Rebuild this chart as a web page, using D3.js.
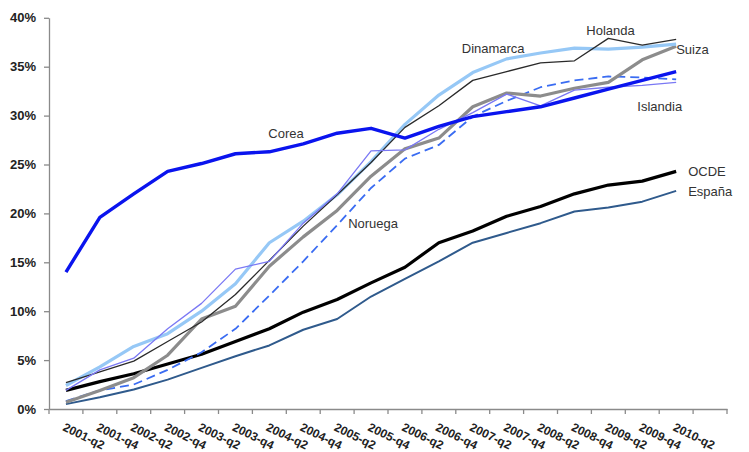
<!DOCTYPE html>
<html><head><meta charset="utf-8">
<script src="https://cdn.jsdelivr.net/npm/d3@7"></script>
<style>body{margin:0;background:#fff;} text{font-family:"Liberation Sans",Arial,sans-serif;}</style>
</head><body><svg id="c" width="749" height="452"></svg>
<script>
const quarters = ["2001-q2","2001-q4","2002-q2","2002-q4","2003-q2","2003-q4","2004-q2","2004-q4","2005-q2","2005-q4","2006-q2","2006-q4","2007-q2","2007-q4","2008-q2","2008-q4","2009-q2","2009-q4","2010-q2"];
const emptySlot = ["2010-q4"];
const yTicks = [0,5,10,15,20,25,30,35,40];

const espana    = [0.5,1.2,2.0,3.0,4.2,5.4,6.5,8.1,9.2,11.5,13.3,15.1,17.0,18.0,19.0,20.2,20.6,21.2,22.3];
const ocde      = [1.9,2.8,3.6,4.6,5.6,6.9,8.2,9.9,11.2,12.9,14.5,17.0,18.2,19.7,20.7,22.0,22.9,23.3,24.3];
const noruega   = [0.8,1.9,2.5,4.0,5.8,8.2,11.6,15.1,18.8,22.6,25.6,27.0,29.9,31.5,32.9,33.6,34.0,33.9,33.7];
const suiza     = [0.7,1.9,3.2,5.5,9.2,10.5,14.6,17.6,20.3,23.8,26.6,27.7,30.9,32.3,32.0,32.8,33.4,35.7,37.1];
const dinamarca = [2.4,4.3,6.4,7.7,10.0,12.8,17.0,19.2,21.9,25.3,29.1,32.1,34.4,35.8,36.4,36.9,36.8,37.0,37.3];
const holanda   = [2.7,3.8,4.9,6.9,8.9,11.7,15.2,18.7,21.9,25.2,28.8,31.0,33.6,34.5,35.4,35.6,37.9,37.2,37.8];
const islandia  = [1.9,4.0,5.2,8.2,10.8,14.3,15.1,19.0,22.0,26.4,26.5,28.6,30.3,32.2,31.0,32.6,32.9,33.1,33.4];
const corea     = [14.0,19.6,22.0,24.3,25.1,26.1,26.3,27.1,28.2,28.7,27.7,28.9,29.9,30.4,30.9,31.8,32.7,33.6,34.5];

const svg = d3.select("#c");
const x = d3.scaleBand().domain(quarters.concat(emptySlot)).range([49, 727]);
const cx = q => x(q) + x.bandwidth() / 2;
const y = d3.scaleLinear().domain([0, 40]).range([409, 17.8]);
const axisColor = "#8a8a8a";

// Y axis
const ya = svg.append("g").attr("transform", "translate(49,0)")
  .call(d3.axisLeft(y).tickValues(yTicks).tickFormat(d => d + "%").tickSize(5).tickSizeOuter(0).tickPadding(8));
ya.select(".domain").attr("stroke", axisColor).attr("stroke-width", 1.3);
ya.selectAll(".tick line").attr("stroke", axisColor).attr("stroke-width", 1.3);
ya.selectAll(".tick text").attr("font-size", 13).attr("font-weight", "bold").attr("fill", "#222")
  .style("font-family", "'Liberation Sans',Arial,sans-serif");

// X axis
const xa = svg.append("g").attr("transform", "translate(0,409)")
  .call(d3.axisBottom(x).tickValues([]).tickSizeOuter(0));
xa.select(".domain").attr("stroke", axisColor).attr("stroke-width", 1.3);
const bounds = quarters.concat(emptySlot).map(q => x(q)).concat([x.range()[1]]);
xa.selectAll("line.tk").data(bounds).join("line").attr("class", "tk")
  .attr("x1", d => d).attr("x2", d => d).attr("y1", 0).attr("y2", 5)
  .attr("stroke", axisColor).attr("stroke-width", 1.3);
svg.append("g").selectAll("text").data(quarters).join("text")
  .attr("transform", q => `translate(${cx(q) - 4},430) rotate(26)`)
  .attr("font-size", 12).attr("font-weight", "bold").attr("fill", "#222")
  .text(q => q);

// Lines
const series = [
  {name: "España", values: espana, color: "#2f5a8c", width: 2},
  {name: "OCDE", values: ocde, color: "#000000", width: 3.2},
  {name: "Noruega", values: noruega, color: "#3a6cf2", width: 1.8, dash: "9,5"},
  {name: "Suiza", values: suiza, color: "#8c8c8c", width: 3.2},
  {name: "Dinamarca", values: dinamarca, color: "#96c8f6", width: 3.2},
  {name: "Holanda", values: holanda, color: "#2a2a2a", width: 1.3},
  {name: "Islandia", values: islandia, color: "#7a78f4", width: 1.3},
  {name: "Corea", values: corea, color: "#0a14ee", width: 3.4}
];
const line = d3.line().x((d, i) => cx(quarters[i])).y(d => y(d));
svg.append("g").selectAll("path").data(series).join("path")
  .attr("d", s => line(s.values))
  .attr("fill", "none").attr("stroke", s => s.color).attr("stroke-width", s => s.width)
  .attr("stroke-dasharray", s => s.dash || null)
  .attr("stroke-linejoin", "round");

// Labels
const last = quarters.length - 1;
const labels = [
  {t: "Corea", x: cx("2004-q2") - 1, y: y(corea[6]) - 14},
  {t: "Dinamarca", x: cx("2007-q2") - 11, y: y(dinamarca[12]) - 20},
  {t: "Holanda", x: cx("2009-q2") - 22, y: y(holanda[16]) - 3},
  {t: "Suiza", x: cx(quarters[last]) , y: y(suiza[last]) + 8},
  {t: "Islandia", x: cx("2009-q2") + 29, y: y(islandia[16]) + 24},
  {t: "Noruega", x: cx("2005-q2") + 11, y: y(noruega[8]) + 3},
  {t: "OCDE", x: cx(quarters[last]) + 12, y: y(ocde[last]) + 5},
  {t: "España", x: cx(quarters[last]) + 12, y: y(espana[last]) + 5}
];
svg.append("g").selectAll("text").data(labels).join("text")
  .attr("x", d => d.x).attr("y", d => d.y)
  .attr("font-size", 13).attr("fill", "#333").text(d => d.t);
</script></body></html>
